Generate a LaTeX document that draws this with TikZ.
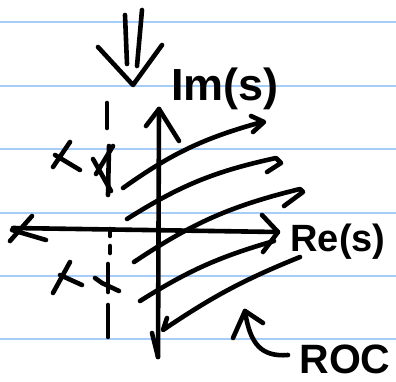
\documentclass[tikz,border=0pt]{standalone}
\usepackage{fontspec}
\setmainfont{Liberation Sans}
\definecolor{ruleblue}{RGB}{165,205,248}
\begin{document}
\begin{tikzpicture}[x=1pt,y=-1pt,
  pen/.style={line width=4.6pt,line cap=round,line join=round,draw=black},
  rule/.style={line width=2pt,draw=ruleblue},
  hand/.style={inner sep=0pt,anchor=base}]
\useasboundingbox (0,0) rectangle (396,381);
% ruled paper
\foreach \yy in {22,86,149,213,276,339} \draw[rule] (0,\yy) -- (396,\yy);
% labels
\node[hand,font=\fontsize{45}{45}\selectfont\bfseries] (im) at (225,100) {Im(s)};
\node[hand,font=\fontsize{38}{38}\selectfont\bfseries] (re) at (338,251) {Re(s)};
\node[hand,font=\fontsize{41}{41}\selectfont\bfseries] (roc) at (345,373) {ROC};
% named points
\coordinate (vtop) at (159,109);
\coordinate (vbot) at (158,357);
\coordinate (hleft) at (13,228);
\coordinate (hright) at (278,232);
% top double arrow
\draw[pen] (125,15) -- (127,64);
\draw[pen] (142,10) -- (137,66);
\draw[pen] (98,47) -- (133,85) -- (162,45);
% vertical axis
\draw[pen] (vbot) -- (vtop);
\draw[pen] (146,126) -- (vtop) -- (179,141);
\draw[pen] (152,333) -- (vbot);
% horizontal axis
\draw[pen] (hleft) -- (hright);
\draw[pen] (262,215) -- (hright) -- (263,252);
\draw[pen] (10,241) -- (32,216);
\draw[pen] (12,230) -- (46,240);
% dashed line
\draw[pen] (107,103) -- (107,128);
\draw[pen] (109,146) -- (108,195);
\draw[pen] (110,229) -- (110,236);
\draw[pen] (110,246) -- (110,253);
\draw[pen] (108,264) -- (108,292);
\draw[pen] (108,305) -- (108,337);
% poles
\draw[pen] (70,142) -- (53,167);
\draw[pen] (55,155) -- (80,170);
\draw[pen] (113,146) -- (96,174);
\draw[pen] (93,159) -- (111,191);
\draw[pen] (70,262) -- (53,293);
\draw[pen] (60,275) -- (82,285);
\draw[pen] (95,278) -- (102,283) -- (119,291);
% ROC hatch lines
\draw[pen] (123,188) to[bend left=10] (262,122);
\draw[pen] (251,116) -- (264,122) -- (253,132);
\draw[pen] (127,219) to[bend left=10] (276,158) -- (281,163) -- (267,172);
\draw[pen] (134,262) to[bend left=10] (300,189) -- (303,192) -- (284,206);
\draw[pen] (140,301) to[bend left=8] (274,241);
\draw[pen] (300,257) to[bend right=6] (163,330) -- (167,318);
% arrow to ROC
\draw[pen] (233,338) -- (245,311) -- (263,323);
\draw[pen] (245,311) .. controls (250,345) and (262,357) .. (288,355);
\end{tikzpicture}
\end{document}
